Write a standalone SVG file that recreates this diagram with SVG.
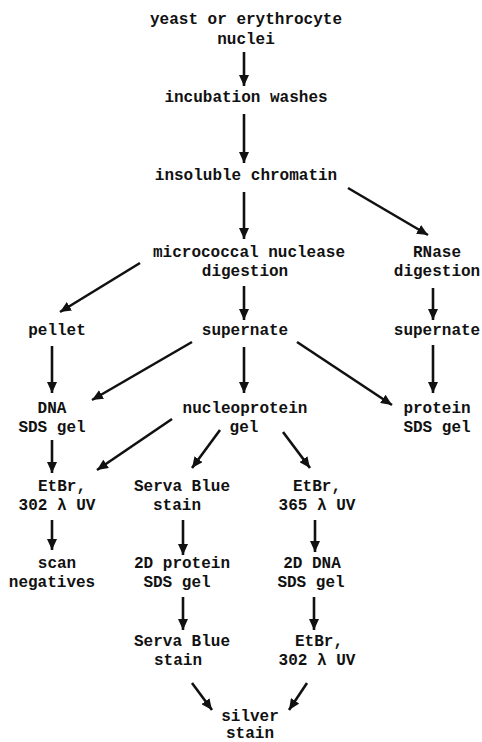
<svg xmlns="http://www.w3.org/2000/svg" width="482" height="742" viewBox="0 0 482 742">
<style>
text{font-family:"Liberation Mono","Courier New",monospace;font-weight:bold;font-size:16px;fill:#111;text-anchor:middle}
.c line{stroke:#111;stroke-width:2.6;marker-end:url(#ah)}
</style>
<defs>
<marker id="ah" markerUnits="userSpaceOnUse" markerWidth="11" markerHeight="10" refX="11" refY="5" orient="auto">
<path d="M0,0 L11,5 L0,10 z" fill="#111"/>
</marker>
</defs>
<rect width="482" height="742" fill="#fff"/>
<g id="n1"><text x="246" y="24">yeast or erythrocyte</text><text x="246" y="44">nuclei</text></g>
<g id="n2"><text x="246" y="102">incubation washes</text></g>
<g id="n3"><text x="246" y="180">insoluble chromatin</text></g>
<g id="n4"><text x="249" y="257">micrococcal nuclease</text><text x="245" y="276">digestion</text></g>
<g id="n5"><text x="437" y="257">RNase</text><text x="437" y="276">digestion</text></g>
<g id="n6"><text x="57" y="335">pellet</text></g>
<g id="n7"><text x="245" y="335">supernate</text></g>
<g id="n8"><text x="437" y="335">supernate</text></g>
<g id="n9"><text x="52" y="413">DNA</text><text x="52" y="432">SDS gel</text></g>
<g id="n10"><text x="245" y="413">nucleoprotein</text><text x="244" y="432">gel</text></g>
<g id="n11"><text x="437" y="413">protein</text><text x="437" y="432">SDS gel</text></g>
<g id="n12"><text x="62" y="491">EtBr,</text><text x="57" y="510">302 λ UV</text></g>
<g id="n13"><text x="182" y="491">Serva Blue</text><text x="177" y="510">stain</text></g>
<g id="n14"><text x="317" y="491">EtBr,</text><text x="317" y="510">365 λ UV</text></g>
<g id="n15"><text x="57" y="568">scan</text><text x="52" y="587">negatives</text></g>
<g id="n16"><text x="182" y="568">2D protein</text><text x="177" y="587">SDS gel</text></g>
<g id="n17"><text x="312" y="568">2D DNA</text><text x="311" y="587">SDS gel</text></g>
<g id="n18"><text x="182" y="646">Serva Blue</text><text x="178" y="665">stain</text></g>
<g id="n19"><text x="319" y="646">EtBr,</text><text x="317" y="665">302 λ UV</text></g>
<g id="n20"><text x="250" y="721">silver</text><text x="250" y="738">stain</text></g>
<g class="c" id="connectors">
<line x1="244" y1="52" x2="244" y2="86"/>
<line x1="244" y1="114" x2="244" y2="163"/>
<line x1="244" y1="192" x2="244" y2="239"/>
<line x1="348" y1="188" x2="428" y2="235"/>
<line x1="140" y1="263" x2="60" y2="312"/>
<line x1="244" y1="286" x2="244" y2="320"/>
<line x1="433" y1="288" x2="433" y2="320"/>
<line x1="52" y1="346" x2="52" y2="393"/>
<line x1="192" y1="342" x2="92" y2="400"/>
<line x1="244" y1="347" x2="244" y2="393"/>
<line x1="297" y1="342" x2="392" y2="405"/>
<line x1="433" y1="345" x2="433" y2="393"/>
<line x1="172" y1="419" x2="97" y2="470"/>
<line x1="220" y1="430" x2="192" y2="468"/>
<line x1="283" y1="432" x2="310" y2="468"/>
<line x1="52" y1="440" x2="52" y2="473"/>
<line x1="52" y1="520" x2="52" y2="550"/>
<line x1="183" y1="520" x2="183" y2="555"/>
<line x1="315" y1="520" x2="315" y2="552"/>
<line x1="183" y1="597" x2="183" y2="630"/>
<line x1="314" y1="597" x2="314" y2="630"/>
<line x1="192" y1="683" x2="212" y2="710"/>
<line x1="307" y1="683" x2="289" y2="710"/>
</g>
</svg>
